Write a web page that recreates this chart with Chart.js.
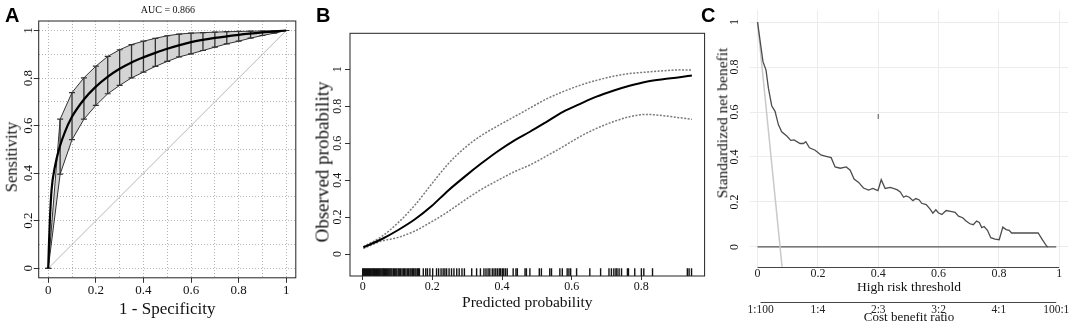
<!DOCTYPE html>
<html>
<head>
<meta charset="utf-8">
<title>ROC, calibration and decision curves</title>
<script src="https://cdn.jsdelivr.net/npm/chart.js@4.4.1/dist/chart.umd.min.js"></script>
<style>
  html, body { margin: 0; padding: 0; background: #fff; }
  #fig { position: relative; width: 1084px; height: 326px; overflow: hidden; font-family: "Liberation Serif", "Times New Roman", serif; color: #111; }
  #fig canvas { position: absolute; top: 0; }
  .panel { position: absolute; top: 5px; font: bold 20px "Liberation Sans", Arial, sans-serif; line-height: 20px; color: #000; }
  .ytitle { position: absolute; white-space: nowrap; line-height: 1; transform: translate(-50%, -50%) rotate(-90deg); }
  .note { position: absolute; white-space: nowrap; line-height: 1; transform: translate(-50%, -50%); }
</style>
</head>
<body>
<div id="fig">
  <canvas id="rocChart" width="300" height="326" style="left:0"></canvas>
  <canvas id="calChart" width="410" height="326" style="left:300px"></canvas>
  <canvas id="dcaChart" width="384" height="326" style="left:700px"></canvas>
  <div class="panel" style="left:5px">A</div>
  <div class="panel" style="left:316px">B</div>
  <div class="panel" style="left:701px">C</div>
  <div class="note" style="left:168px;top:10px;font-size:10px">AUC = 0.866</div>
  <div class="ytitle" style="left:12px;top:157px;font-size:16.5px">Sensitivity</div>
  <div class="ytitle" style="left:322px;top:162px;font-size:19px">Observed probability</div>
  <div class="ytitle" style="left:722px;top:123px;font-size:15.5px">Standardized net benefit</div>
</div>
<script>
// ---- A: ROC curve with bootstrap band ----
const rocX     = [0, 0.05, 0.1, 0.15, 0.2, 0.25, 0.3, 0.35, 0.4, 0.45, 0.5, 0.55, 0.6, 0.65, 0.7, 0.75, 0.8, 0.85, 0.9, 0.95, 1];
const rocUpper = [0, 0.627, 0.739, 0.801, 0.850, 0.891, 0.919, 0.941, 0.955, 0.967, 0.978, 0.985, 0.989, 0.991, 0.993, 0.995, 0.996, 0.997, 0.998, 0.999, 1];
const rocLower = [0, 0.396, 0.541, 0.627, 0.685, 0.734, 0.769, 0.801, 0.825, 0.849, 0.870, 0.889, 0.902, 0.916, 0.930, 0.944, 0.955, 0.968, 0.979, 0.989, 1];
const rocMeanX = [0, 0.003, 0.007, 0.014, 0.028, 0.049, 0.07, 0.098, 0.149, 0.198, 0.248, 0.3, 0.352, 0.402, 0.45, 0.5, 0.6, 0.7, 0.8, 0.9, 1];
const rocMeanY = [0, 0.1, 0.203, 0.329, 0.427, 0.513, 0.573, 0.634, 0.709, 0.762, 0.804, 0.839, 0.867, 0.888, 0.906, 0.923, 0.951, 0.969, 0.982, 0.992, 1];
const chanceLine = [0, 1];
const rocTicks = [0, 0.2, 0.4, 0.6, 0.8, 1];
const rocGrid  = [0, 0.1, 0.2, 0.3, 0.4, 0.5, 0.6, 0.7, 0.8, 0.9, 1];

// ---- B: calibration curve ----
const calX     = [0.002, 0.054, 0.102, 0.150, 0.198, 0.245, 0.293, 0.341, 0.389, 0.437, 0.480, 0.528, 0.575, 0.623, 0.671, 0.719, 0.766, 0.814, 0.862, 0.910, 0.945];
const calMean  = [0.036, 0.080, 0.130, 0.188, 0.260, 0.343, 0.419, 0.491, 0.558, 0.617, 0.662, 0.716, 0.770, 0.812, 0.852, 0.884, 0.911, 0.933, 0.946, 0.957, 0.967];
const calUpper = [0.040, 0.094, 0.170, 0.265, 0.379, 0.487, 0.575, 0.642, 0.695, 0.745, 0.790, 0.840, 0.879, 0.913, 0.940, 0.962, 0.977, 0.985, 0.992, 0.997, 0.996];
const calLower = [0.030, 0.070, 0.090, 0.125, 0.175, 0.229, 0.292, 0.350, 0.400, 0.447, 0.482, 0.531, 0.581, 0.635, 0.680, 0.716, 0.743, 0.756, 0.749, 0.738, 0.729];
const calRug = [
  0.000, 0.003, 0.005, 0.008, 0.011, 0.014, 0.017, 0.020, 0.023, 0.026, 0.029, 0.031, 0.034, 0.037, 0.040,
  0.043, 0.046, 0.049, 0.052, 0.055, 0.058, 0.060, 0.063, 0.066, 0.069, 0.072, 0.075, 0.078, 0.081, 0.084,
  0.088, 0.091, 0.095, 0.098, 0.102, 0.105, 0.109, 0.113, 0.117, 0.120, 0.124, 0.128, 0.132, 0.136, 0.139,
  0.143, 0.146, 0.150, 0.153, 0.157, 0.160, 0.163, 0.174, 0.181, 0.186, 0.193, 0.201, 0.212, 0.218, 0.225,
  0.231, 0.236, 0.241, 0.248, 0.255, 0.262, 0.270, 0.277, 0.285, 0.292, 0.313, 0.327, 0.338, 0.348, 0.354,
  0.360, 0.365, 0.372, 0.377, 0.382, 0.387, 0.392, 0.396, 0.401, 0.405, 0.410, 0.415, 0.432, 0.440, 0.444,
  0.466, 0.470, 0.480, 0.507, 0.513, 0.537, 0.542, 0.566, 0.573, 0.587, 0.592, 0.597, 0.614, 0.652, 0.683,
  0.707, 0.714, 0.721, 0.727, 0.730, 0.736, 0.743, 0.760, 0.763, 0.781, 0.800, 0.807, 0.832, 0.932, 0.937, 0.944
];
const calTicksX = [0, 0.2, 0.4, 0.6, 0.8];
const calTicksY = [0, 0.2, 0.4, 0.6, 0.8, 1];

// ---- C: decision curve ----
const dcaX = [0, 0.009, 0.018, 0.028, 0.036, 0.047, 0.058, 0.069, 0.08, 0.097, 0.11, 0.121, 0.141, 0.152, 0.16, 0.172,
  0.191, 0.21, 0.224, 0.244, 0.257, 0.274, 0.294, 0.307, 0.32, 0.335, 0.351, 0.368, 0.382, 0.399, 0.41, 0.423,
  0.44, 0.462, 0.473, 0.484, 0.492, 0.503, 0.515, 0.525, 0.536, 0.544, 0.559, 0.572, 0.581, 0.591, 0.599, 0.611,
  0.625, 0.644, 0.655, 0.666, 0.68, 0.691, 0.704, 0.715, 0.726, 0.735, 0.743, 0.751, 0.762, 0.773, 0.787, 0.801,
  0.813, 0.824, 0.834, 0.842, 0.93, 0.945, 0.958, 0.963];
const dcaY = [1, 0.912, 0.824, 0.787, 0.706, 0.628, 0.603, 0.544, 0.512, 0.493, 0.474, 0.476, 0.46, 0.46, 0.468, 0.441,
  0.43, 0.409, 0.404, 0.397, 0.356, 0.35, 0.356, 0.341, 0.302, 0.287, 0.262, 0.253, 0.26, 0.25, 0.299, 0.26,
  0.265, 0.255, 0.245, 0.221, 0.227, 0.221, 0.206, 0.215, 0.209, 0.194, 0.188, 0.168, 0.15, 0.165, 0.152, 0.144,
  0.162, 0.157, 0.154, 0.137, 0.13, 0.115, 0.103, 0.099, 0.115, 0.109, 0.086, 0.091, 0.074, 0.041, 0.035, 0.032,
  0.088, 0.077, 0.074, 0.062, 0.062, 0.03, 0.004, 0];
const treatAllX = [0, 0.082];
const treatAllY = [1, -0.098];
const treatNoneX = [0, 0.99];
const treatNoneY = [0, 0];
const strayMark = [{ x: 0.4, y: 0.58 }];
const dcaTicksX = [0, 0.2, 0.4, 0.6, 0.8, 1];
const dcaTicksY = [0, 0.2, 0.4, 0.6, 0.8, 1];
const ratioPos = [0.01, 0.2, 0.4, 0.6, 0.8, 0.99];
const ratioLabels = ['1:100', '1:4', '2:3', '3:2', '4:1', '100:1'];

Chart.defaults.font.family = '"Liberation Serif", "Times New Roman", serif';
Chart.defaults.color = '#111';

function pts(xs, ys) { return xs.map((x, i) => ({ x, y: ys[i] })); }
function setTicks(values) { return s => { s.ticks = values.map(v => ({ value: v })); }; }
function fixWidth(w) { return s => { s.width = w; }; }
function fixHeight(h) { return s => { s.height = h; }; }
const hidden = 'rgba(0,0,0,0)';

// R-style y labels: drawn parallel to the axis
const rotYTicks = {
  id: 'rotYTicks',
  afterDraw(chart, args, opts) {
    const s = chart.scales.y, ctx = chart.ctx;
    ctx.save();
    ctx.font = opts.size + 'px "Liberation Serif", serif';
    ctx.fillStyle = '#111';
    ctx.textAlign = 'center';
    ctx.textBaseline = 'middle';
    s.ticks.forEach(t => {
      ctx.save();
      ctx.translate(opts.x, s.getPixelForValue(t.value));
      ctx.rotate(-Math.PI / 2);
      ctx.fillText(String(t.value), 0, 0);
      ctx.restore();
    });
    ctx.restore();
  }
};

const frame = {
  id: 'frame',
  afterDraw(chart) {
    const a = chart.chartArea, ctx = chart.ctx;
    ctx.save();
    ctx.strokeStyle = '#222';
    ctx.lineWidth = 1;
    ctx.strokeRect(a.left, a.top, a.right - a.left, a.bottom - a.top);
    ctx.restore();
  }
};

// decision curve axes only run from first to last tick
const dcaAxes = {
  id: 'dcaAxes',
  afterDraw(chart) {
    const ctx = chart.ctx;
    ctx.save();
    ctx.strokeStyle = '#444';
    ctx.lineWidth = 1;
    [['x', 0], ['x2', 5]].forEach(([id, dy]) => {
      const s = chart.scales[id];
      const x1 = s.getPixelForValue(s.ticks[0].value);
      const x2 = s.getPixelForValue(s.ticks[s.ticks.length - 1].value);
      const y = Math.round(s.top + dy) + 0.5;
      ctx.beginPath();
      ctx.moveTo(x1, y);
      ctx.lineTo(x2, y);
      ctx.stroke();
    });
    ctx.restore();
  }
};

const common = {
  responsive: false,
  animation: false,
  events: [],
  elements: { point: { radius: 0, hoverRadius: 0 }, line: { tension: 0 } }
};

// ---------- A ----------
const errorBars = rocX.flatMap((x, i) => [{ x, y: rocLower[i] }, { x, y: rocUpper[i] }, { x, y: null }]);
const caps = rocX.flatMap((x, i) => [{ x, y: rocLower[i] }, { x, y: rocUpper[i] }]);

new Chart(document.getElementById('rocChart'), {
  type: 'line',
  data: {
    datasets: [
      { data: pts(rocMeanX, rocMeanY), borderColor: '#000', borderWidth: 2.2, cubicInterpolationMode: 'monotone' },
      { data: errorBars, borderColor: '#333', borderWidth: 1.3, spanGaps: false },
      { data: caps, showLine: false, pointStyle: 'line', pointRadius: 3, borderColor: '#333', pointBorderWidth: 1.2 },
      { data: pts(rocX, rocUpper), borderColor: '#333', borderWidth: 1, fill: '+1', backgroundColor: '#d4d4d4' },
      { data: pts(rocX, rocLower), borderColor: '#333', borderWidth: 1 },
      { data: pts(chanceLine, chanceLine), borderColor: '#b8b8b8', borderWidth: 1 }
    ]
  },
  options: {
    ...common,
    layout: { padding: { top: 21, right: 3, left: 0, bottom: 0 } },
    plugins: {
      legend: { display: false }, tooltip: { enabled: false },
      filler: { drawTime: 'beforeDatasetsDraw' },
      rotYTicks: { x: 29, size: 13 }
    },
    scales: {
      x: {
        type: 'linear', position: 'bottom', min: -0.04, max: 1.04,
        afterBuildTicks: setTicks(rocTicks), afterFit: fixHeight(48.2),
        ticks: { autoSkip: false, maxRotation: 0, padding: 0, font: { size: 13 }, callback: v => String(v) },
        grid: { drawOnChartArea: false, tickLength: 5, tickColor: '#333' },
        border: { display: false },
        title: { display: true, text: '1 - Specificity', font: { size: 17 }, padding: { top: 0, bottom: 5.8 } }
      },
      y: {
        type: 'linear', position: 'left', min: -0.04, max: 1.04,
        afterBuildTicks: setTicks(rocTicks), afterFit: fixWidth(38.7),
        ticks: { color: hidden, font: { size: 13 } },
        grid: { drawOnChartArea: false, tickLength: 5, tickColor: '#333' },
        border: { display: false }
      },
      xg: {
        type: 'linear', position: 'bottom', min: -0.04, max: 1.04,
        afterBuildTicks: setTicks(rocGrid), afterFit: fixHeight(0),
        ticks: { display: false },
        grid: { color: '#b4b4b4', drawTicks: false },
        border: { display: false, dash: [1, 2] }
      },
      yg: {
        type: 'linear', position: 'left', min: -0.04, max: 1.04,
        afterBuildTicks: setTicks(rocGrid), afterFit: fixWidth(0),
        ticks: { display: false },
        grid: { color: '#b4b4b4', drawTicks: false },
        border: { display: false, dash: [1, 2] }
      }
    }
  },
  plugins: [rotYTicks, frame]
});

// ---------- B ----------
new Chart(document.getElementById('calChart'), {
  type: 'line',
  data: {
    datasets: [
      { data: pts(calX, calMean), borderColor: '#000', borderWidth: 2, cubicInterpolationMode: 'monotone' },
      { data: pts(calX, calUpper), borderColor: '#7a7a7a', borderWidth: 1.5, borderDash: [2, 1.5], cubicInterpolationMode: 'monotone' },
      { data: pts(calX, calLower), borderColor: '#7a7a7a', borderWidth: 1.5, borderDash: [2, 1.5], cubicInterpolationMode: 'monotone' },
      { data: calRug.map(x => ({ x, y: -0.0985 })), showLine: false, pointStyle: 'line', pointRotation: 90,
        pointRadius: 4, borderColor: '#111', pointBorderWidth: 1.4 }
    ]
  },
  options: {
    ...common,
    layout: { padding: { top: 33.3, right: 5, left: 0, bottom: 0 } },
    plugins: { legend: { display: false }, tooltip: { enabled: false }, rotYTicks: { x: 38.3, size: 12 } },
    scales: {
      x: {
        type: 'linear', position: 'bottom', min: -0.0364, max: 0.9815,
        afterBuildTicks: setTicks(calTicksX), afterFit: fixHeight(50),
        ticks: { autoSkip: false, maxRotation: 0, padding: 0, font: { size: 12 }, callback: v => String(v) },
        grid: { drawOnChartArea: false, tickLength: 4, tickColor: '#333' },
        border: { display: false },
        title: { display: true, text: 'Predicted probability', font: { size: 15.5 }, padding: { top: 0, bottom: 13.7 } }
      },
      y: {
        type: 'linear', position: 'left', min: -0.119, max: 1.195,
        afterBuildTicks: setTicks(calTicksY), afterFit: fixWidth(50),
        ticks: { color: hidden, font: { size: 12 } },
        grid: { drawOnChartArea: false, tickLength: 5, tickColor: '#333' },
        border: { display: false }
      }
    }
  },
  plugins: [rotYTicks, frame]
});

// ---------- C ----------
new Chart(document.getElementById('dcaChart'), {
  type: 'line',
  data: {
    datasets: [
      { data: pts(dcaX, dcaY), borderColor: '#4d4d4d', borderWidth: 1.3 },
      { data: pts(treatAllX, treatAllY), borderColor: '#c9c9c9', borderWidth: 1.5, clip: 0 },
      { data: pts(treatNoneX, treatNoneY), borderColor: '#555', borderWidth: 1.3 },
      { data: strayMark, showLine: false, pointStyle: 'line', pointRotation: 90, pointRadius: 2.5,
        borderColor: '#555', pointBorderWidth: 1 }
    ]
  },
  options: {
    ...common,
    layout: { padding: { top: 8, right: 16, left: 0, bottom: 0 } },
    plugins: { legend: { display: false }, tooltip: { enabled: false }, rotYTicks: { x: 35, size: 12 } },
    scales: {
      x: {
        type: 'linear', position: 'bottom', weight: 1, min: -0.025, max: 1.029,
        afterBuildTicks: setTicks(dcaTicksX), afterFit: fixHeight(30),
        ticks: { autoSkip: false, maxRotation: 0, padding: 0, font: { size: 12 }, color: '#222', callback: v => String(v) },
        grid: { color: '#ececec', drawTicks: false },
        border: { display: false },
        title: { display: true, text: 'High risk threshold', font: { size: 13.5 }, padding: { top: 0, bottom: 1.6 } }
      },
      x2: {
        type: 'linear', position: 'bottom', weight: 2, min: -0.025, max: 1.029,
        afterBuildTicks: setTicks(ratioPos), afterFit: fixHeight(29.3),
        ticks: { autoSkip: false, maxRotation: 0, padding: 6, font: { size: 11.5 }, color: '#222',
          callback: (v, i) => ratioLabels[i] },
        grid: { display: false, drawTicks: false },
        border: { display: false },
        title: { display: true, text: 'Cost benefit ratio', font: { size: 13 }, padding: { top: 0, bottom: 0.5 } }
      },
      y: {
        type: 'linear', position: 'left', min: -0.088, max: 1.053,
        afterBuildTicks: setTicks(dcaTicksY), afterFit: fixWidth(50),
        ticks: { color: hidden, font: { size: 12 } },
        grid: { color: '#ececec', drawTicks: false },
        border: { display: false }
      }
    }
  },
  plugins: [rotYTicks, dcaAxes]
});
</script>
</body>
</html>
